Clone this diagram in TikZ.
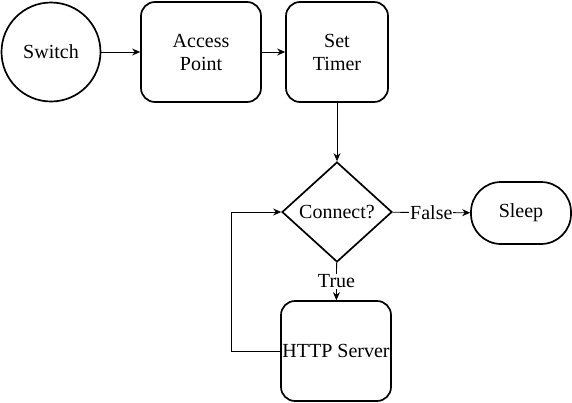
\documentclass[tikz,border=0pt]{standalone}
\usepackage{fontspec}
\setmainfont{Liberation Serif}
\newfontfamily\boxfont{Liberation Serif}
\usetikzlibrary{shapes.geometric,arrows.meta,positioning}

\begin{document}
\begin{tikzpicture}[x=1pt,y=-1pt,font=\boxfont\fontsize{20}{23}\selectfont,
    >={Stealth[length=8pt,width=7pt]}]
  \useasboundingbox (0,0) rectangle (572,402);
  \tikzstyle{block}=[draw,line width=1.7pt,rounded corners=14pt,align=center,inner sep=0pt]
  \tikzstyle{line}=[draw,line width=0.8pt,->]
  \tikzstyle{tag}=[fill=white,inner sep=1pt]
  \node[circle,draw,line width=1.7pt,minimum size=99pt,inner sep=0pt] (sw) at (51,52) {Switch};
  \node[block,minimum width=120pt,minimum height=100pt] (ap) at (201,52) {Access\\Point};
  \node[block,minimum width=102pt,minimum height=100pt] (st) at (337,52) {Set\\Timer};
  \node[diamond,draw,line width=1.7pt,aspect=1.1,inner sep=0pt,
        minimum width=110pt,minimum height=100pt] (con) at (337,212) {Connect?};
  \node[block,rounded corners=30pt,minimum width=100pt,minimum height=62pt] (sl) at (521,213) {Sleep};
  \node[block,minimum width=110pt,minimum height=100pt] (http) at (336,351) {HTTP Server};
  % main flow
  \path[line] (sw) -- (ap);
  \path[line] (ap) -- (st);
  \path[line] (st) -- (con);
  \path[line] (con) -- node[tag]{False} (sl);
  \path[line] (con) -- node[tag]{True} (http);
  % retry loop
  \path[line] (http.west) -- ++(-49,0) |- (con.west);
\end{tikzpicture}
\end{document}
